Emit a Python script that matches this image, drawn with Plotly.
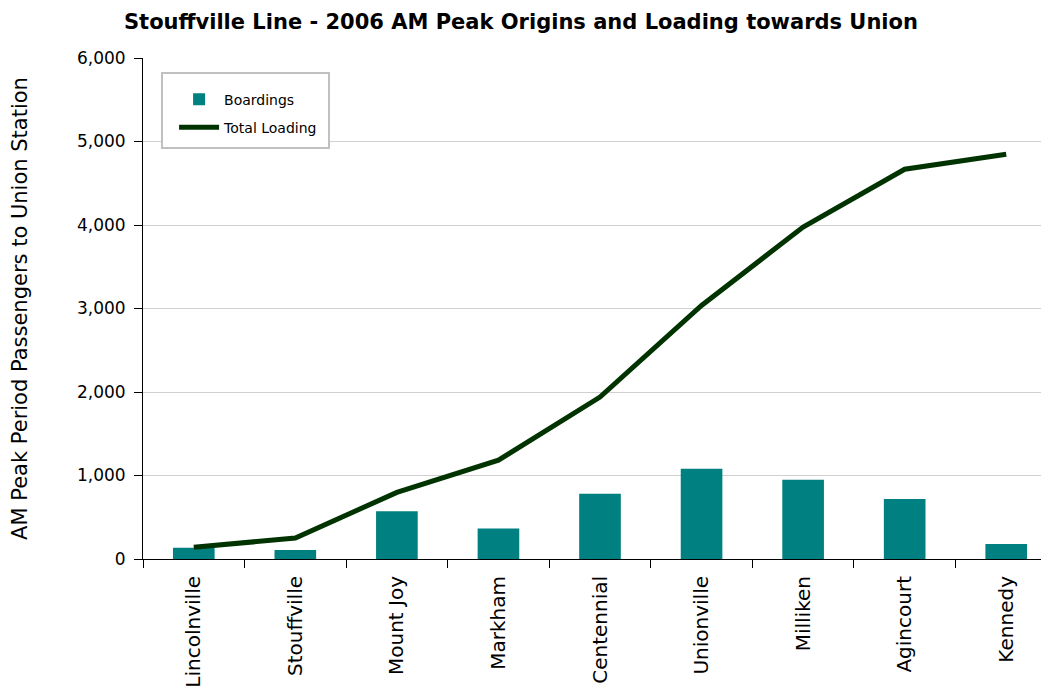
import plotly.graph_objects as go

stations = ["Lincolnville", "Stouffville", "Mount Joy", "Markham", "Centennial",
            "Unionville", "Milliken", "Agincourt", "Kennedy"]
boardings = [134, 109, 571, 364, 780, 1080, 948, 720, 180]
total_loading = [140, 251, 798, 1183, 1940, 3036, 3976, 4668, 4848]
y_ticks = [0, 1000, 2000, 3000, 4000, 5000, 6000]

FONT = "DejaVu Sans, Liberation Sans, Arial, sans-serif"

fig = go.Figure()
fig.add_trace(go.Bar(
    x=stations, y=boardings, name="Boardings", legendgroup="b",
    marker=dict(color="#008080", line=dict(width=0)),
))
fig.add_trace(go.Scatter(
    x=stations, y=total_loading, name="Total Loading", mode="lines", legendgroup="l",
    line=dict(color="#003300", width=5),
))

# legend frame drawn as a shape so it can be padded like the original
fig.add_shape(
    type="rect", xref="paper", yref="paper",
    x0=0.0208, x1=0.2035, y0=0.8204, y1=0.970,
    line=dict(color="#c0c0c0", width=2), fillcolor="white", layer="above",
)

fig.update_layout(
    width=1049, height=691,
    margin=dict(l=135, r=0, t=50, b=140, autoexpand=False),
    paper_bgcolor="white", plot_bgcolor="white",
    font=dict(family=FONT, color="black"),
    bargap=0.59,
    title=dict(
        text="<b>Stouffville Line - 2006 AM Peak Origins and Loading towards Union</b>",
        x=0.489, xanchor="center", y=0.980, yanchor="middle", yref="container",
        font=dict(size=21, family=FONT),
    ),
    legend=dict(
        x=0.034, y=0.949, xanchor="left", yanchor="top",
        borderwidth=0, bgcolor="rgba(0,0,0,0)",
        font=dict(size=14, family=FONT),
        tracegroupgap=7, itemwidth=40,
    ),
    showlegend=True,
)

fig.update_xaxes(
    range=[-0.5, 8.5], tickangle=-90, tickson="boundaries",
    ticks="outside", ticklen=8, tickcolor="black", ticklabelstandoff=8,
    showline=True, linecolor="black", linewidth=1, automargin=False,
    showgrid=False, tickfont=dict(size=20, family=FONT),
)
fig.update_yaxes(
    range=[0, 6000], tickvals=y_ticks, tickformat=",d",
    ticks="outside", ticklen=8, tickcolor="black", ticklabelstandoff=5,
    showline=True, linecolor="black", linewidth=1, automargin=False,
    showgrid=True, gridcolor="#d0d0d0", gridwidth=1, zeroline=False,
    tickfont=dict(size=17, family=FONT),
    title=dict(text="AM Peak Period Passengers to Union Station",
               font=dict(size=21, family=FONT), standoff=45),
)

fig.write_html("out.html")
